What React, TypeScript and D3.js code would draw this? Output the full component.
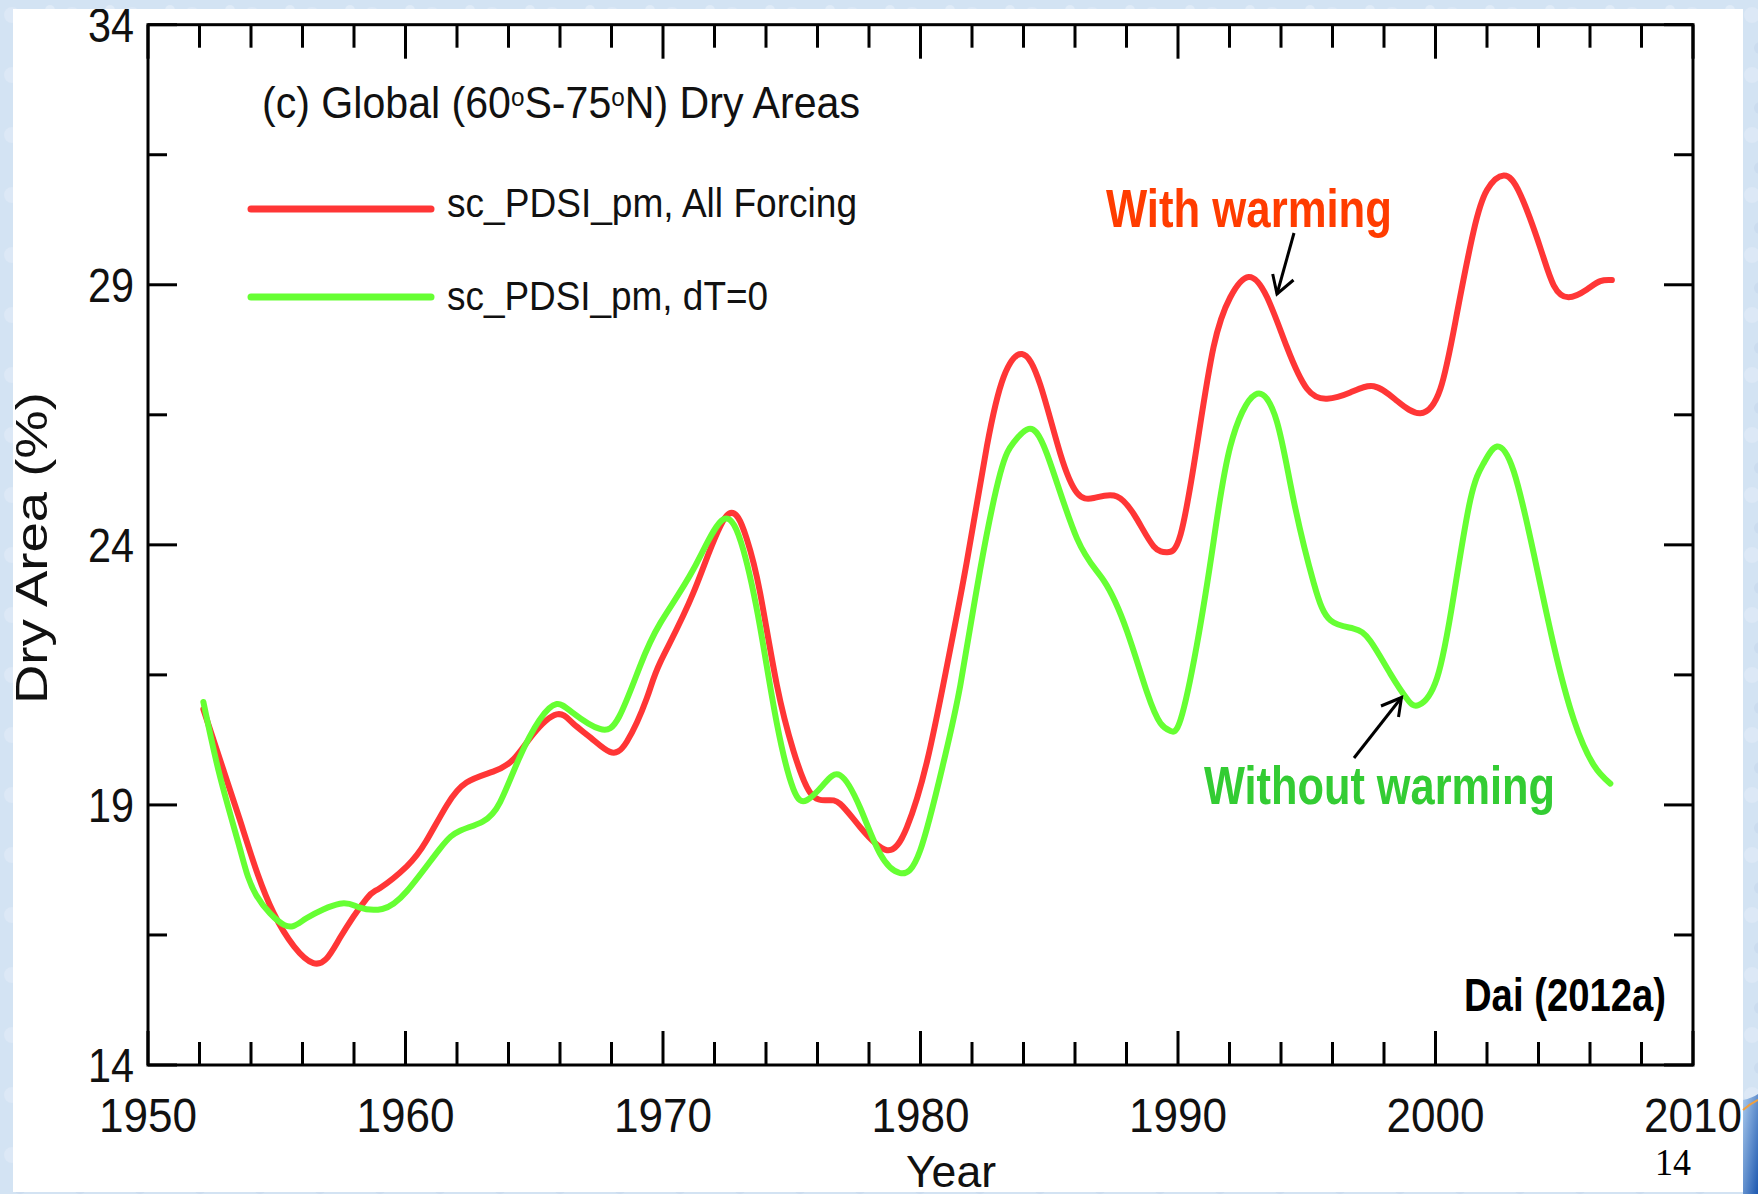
import React from 'react';
import * as d3 from 'd3';

// ---- Data ----
const redYears = [1952.15, 1953.57, 1954.87, 1956.42, 1957.45, 1958.49, 1959.0, 1960.05, 1960.8, 1961.6, 1962.37, 1963.4, 1964.2, 1964.96, 1965.87, 1966.5, 1967.2, 1967.94, 1968.6, 1969.37, 1969.9, 1971.18, 1972.47, 1973.25, 1973.77, 1974.42, 1975.06, 1975.71, 1976.36, 1976.88, 1977.66, 1978.7, 1979.47, 1980.25, 1981.03, 1981.8, 1982.58, 1983.23, 1983.94, 1984.65, 1985.43, 1986.08, 1986.73, 1987.63, 1988.41, 1989.06, 1989.58, 1990.1, 1990.73, 1991.38, 1992.03, 1992.74, 1993.46, 1994.23, 1995.01, 1995.79, 1996.69, 1997.6, 1998.5, 1999.41, 2000.19, 2000.83, 2001.48, 2002.0, 2002.65, 2003.29, 2004.07, 2004.59, 2005.17, 2005.88, 2006.4, 2006.85];
const redValues = [20.84, 18.71, 16.93, 15.96, 16.44, 17.2, 17.4, 17.82, 18.3, 18.99, 19.43, 19.64, 19.88, 20.36, 20.74, 20.57, 20.29, 20.02, 20.22, 21.05, 21.75, 23.08, 24.56, 24.12, 23.08, 21.31, 20.05, 19.24, 19.09, 19.02, 18.57, 18.13, 18.57, 19.83, 21.68, 23.68, 25.9, 27.23, 27.67, 27.08, 25.75, 25.0, 24.9, 24.93, 24.49, 23.97, 23.86, 24.2, 25.89, 27.8, 28.76, 29.15, 28.76, 27.8, 27.0, 26.81, 26.93, 27.05, 26.77, 26.53, 27.0, 28.44, 30.03, 30.82, 31.1, 30.74, 29.71, 28.99, 28.76, 28.91, 29.07, 29.09];

const greenYears = [1952.15, 1952.8, 1953.57, 1954.2, 1955.3, 1956.15, 1957.45, 1958.2, 1959.1, 1960.05, 1961.34, 1962.1, 1963.0, 1963.67, 1964.4, 1965.2, 1965.87, 1966.5, 1967.55, 1968.3, 1969.1, 1969.9, 1971.18, 1972.34, 1973.12, 1973.77, 1974.42, 1975.06, 1975.58, 1976.23, 1976.88, 1977.66, 1978.43, 1979.21, 1979.99, 1980.9, 1981.55, 1982.32, 1983.1, 1983.62, 1984.2, 1984.91, 1986.08, 1987.12, 1988.02, 1988.8, 1989.32, 1989.71, 1990.1, 1990.73, 1991.38, 1992.03, 1993.0, 1993.84, 1994.49, 1995.27, 1995.92, 1996.82, 1997.47, 1998.25, 1998.89, 1999.35, 2000.06, 2000.71, 2001.35, 2001.87, 2002.39, 2003.04, 2003.82, 2004.59, 2005.37, 2006.14, 2006.79];
const greenValues = [20.98, 19.54, 18.16, 17.27, 16.69, 16.82, 17.1, 17.03, 17.0, 17.34, 18.16, 18.5, 18.68, 19.05, 19.88, 20.63, 20.94, 20.77, 20.46, 20.7, 21.66, 22.5, 23.53, 24.49, 23.9, 22.42, 20.57, 19.31, 19.09, 19.39, 19.57, 18.94, 18.06, 17.69, 18.13, 19.83, 21.31, 23.53, 25.38, 25.97, 26.23, 25.75, 24.12, 23.31, 22.34, 21.16, 20.57, 20.42, 20.64, 22.07, 24.06, 25.89, 26.89, 26.37, 24.86, 23.27, 22.55, 22.39, 22.15, 21.52, 21.04, 20.92, 21.44, 23.03, 24.86, 25.57, 25.89, 25.41, 23.82, 22.07, 20.64, 19.77, 19.41];

const xTickLabels = [1950, 1960, 1970, 1980, 1990, 2000, 2010];
const xMinorTicks = [1952, 1954, 1956, 1958, 1962, 1964, 1966, 1968, 1972, 1974, 1976, 1978, 1982, 1984, 1986, 1988, 1992, 1994, 1996, 1998, 2002, 2004, 2006, 2008];
const yTickLabels = [14, 19, 24, 29, 34];
const yMinorTicks = [16.5, 21.5, 26.5, 31.5];

const seriesNames = ['sc_PDSI_pm, All Forcing', 'sc_PDSI_pm, dT=0'];
const titleParts = ['(c) Global (60', 'o', 'S-75', 'o', 'N) Dry Areas'];

const RED = '#ff3636';
const GREEN = '#66ff33';
const FONT = '"Liberation Sans", Arial, Helvetica, sans-serif';

export default function App() {
  const W = 1758;
  const H = 1194;
  const left = 148, right = 1693, top = 24.7, bottom = 1065;

  const x = d3.scaleLinear().domain([1950, 2010]).range([left, right]);
  const y = d3.scaleLinear().domain([14, 34]).range([bottom, top]);

  const line = d3
    .line<[number, number]>()
    .x((d) => x(d[0]))
    .y((d) => y(d[1]))
    .curve(d3.curveNatural);

  const redPts: [number, number][] = redYears.map((yr, i) => [yr, redValues[i]]);
  const greenPts: [number, number][] = greenYears.map((yr, i) => [yr, greenValues[i]]);

  const xMajLen = 34, xMinLen = 23, yMajLen = 29, yMinLen = 19;

  return (
    <svg
      width={W}
      height={H}
      viewBox={`0 0 ${W} ${H}`}
      style={{ position: 'absolute', left: 0, top: 0, display: 'block' }}
      fontFamily={FONT}
    >
      <defs>
        <clipPath id="panel">
          <rect x={13} y={9} width={1730} height={1183} />
        </clipPath>
        <linearGradient id="logo" x1="0" y1="0" x2="1" y2="1">
          <stop offset="0" stopColor="#a9c9ec" />
          <stop offset="1" stopColor="#1d58b0" />
        </linearGradient>
        <pattern id="ice" width="60" height="60" patternUnits="userSpaceOnUse">
          <rect width="60" height="60" fill="#d3e3f3" />
          <circle cx="12" cy="15" r="8" fill="#dce8f6" />
          <circle cx="42" cy="40" r="10" fill="#d9e6f5" />
          <circle cx="50" cy="10" r="5" fill="#e0ebf7" />
          <circle cx="20" cy="48" r="6" fill="#cbdcef" />
        </pattern>
      </defs>

      {/* background */}
      <rect x={0} y={0} width={W} height={H} fill="url(#ice)" />
      <rect x={13} y={9} width={1730} height={1183} fill="#ffffff" />
      {/* logo swoosh bottom-right */}
      <path d="M1743,1100 Q1752,1098 1758,1094 L1758,1194 L1743,1194 Z" fill="url(#logo)" />
      <path d="M1743,1110 Q1750,1104 1758,1100" stroke="#f0a040" strokeWidth={2} fill="none" />

      <g clipPath="url(#panel)">
        {/* frame */}
        <rect x={left} y={top} width={right - left} height={bottom - top} fill="none" stroke="#000" strokeWidth={3} />

        {/* x ticks bottom and top */}
        {xTickLabels.concat(xMinorTicks).map((t) => {
          const major = xTickLabels.includes(t);
          const len = major ? xMajLen : xMinLen;
          return (
            <g key={'xt' + t}>
              <line x1={x(t)} x2={x(t)} y1={bottom} y2={bottom - len} stroke="#000" strokeWidth={3} />
              <line x1={x(t)} x2={x(t)} y1={top} y2={top + len} stroke="#000" strokeWidth={3} />
            </g>
          );
        })}
        {/* y ticks left and right */}
        {yTickLabels.concat(yMinorTicks).map((t) => {
          const major = yTickLabels.includes(t);
          const len = major ? yMajLen : yMinLen;
          return (
            <g key={'yt' + t}>
              <line x1={left} x2={left + len} y1={y(t)} y2={y(t)} stroke="#000" strokeWidth={3} />
              <line x1={right} x2={right - len} y1={y(t)} y2={y(t)} stroke="#000" strokeWidth={3} />
            </g>
          );
        })}

        {/* x tick labels */}
        {xTickLabels.map((t) => (
          <text
            key={'xl' + t}
            x={x(t)}
            y={bottom + 67}
            fontSize={48}
            textAnchor="middle"
            fill="#111"
            textLength={98}
            lengthAdjust="spacingAndGlyphs"
          >
            {t}
          </text>
        ))}
        {/* y tick labels */}
        {yTickLabels.map((t) => (
          <text
            key={'yl' + t}
            x={134}
            y={y(t) + 17}
            fontSize={48}
            textAnchor="end"
            fill="#111"
            textLength={46}
            lengthAdjust="spacingAndGlyphs"
          >
            {t}
          </text>
        ))}

        {/* axis titles */}
        <text x={951} y={1187} fontSize={44} textAnchor="middle" fill="#111" textLength={90} lengthAdjust="spacingAndGlyphs">
          Year
        </text>
        <text
          transform="translate(47,548) rotate(-90)"
          fontSize={44}
          textAnchor="middle"
          fill="#111"
          textLength={312}
          lengthAdjust="spacingAndGlyphs"
        >
          Dry Area (%)
        </text>

        {/* panel title */}
        <text x={262} y={118} fontSize={44} fill="#111" textLength={598} lengthAdjust="spacingAndGlyphs">
          <tspan>{titleParts[0]}</tspan>
          <tspan dy={-12} fontSize={26}>{titleParts[1]}</tspan>
          <tspan dy={12}>{titleParts[2]}</tspan>
          <tspan dy={-12} fontSize={26}>{titleParts[3]}</tspan>
          <tspan dy={12}>{titleParts[4]}</tspan>
        </text>

        {/* legend */}
        <line x1={251} x2={431} y1={209} y2={209} stroke={RED} strokeWidth={7} strokeLinecap="round" />
        <line x1={251} x2={431} y1={297} y2={297} stroke={GREEN} strokeWidth={7} strokeLinecap="round" />
        <text x={447} y={217} fontSize={40} fill="#111" textLength={410} lengthAdjust="spacingAndGlyphs">
          {seriesNames[0]}
        </text>
        <text x={447} y={310} fontSize={40} fill="#111" textLength={321} lengthAdjust="spacingAndGlyphs">
          {seriesNames[1]}
        </text>

        {/* series */}
        <path d={line(redPts) || ''} fill="none" stroke={RED} strokeWidth={6} strokeLinejoin="round" strokeLinecap="round" />
        <path d={line(greenPts) || ''} fill="none" stroke={GREEN} strokeWidth={6} strokeLinejoin="round" strokeLinecap="round" />

        {/* annotations */}
        <text x={1106} y={227} fontSize={53} fontWeight="bold" fill="#ff3c00" textLength={286} lengthAdjust="spacingAndGlyphs">
          With warming
        </text>
        <line x1={1294} y1={233} x2={1277} y2={294} stroke="#000" strokeWidth={3} />
        <polyline points="1272.7,274 1277,294 1293.5,280" fill="none" stroke="#000" strokeWidth={3} />

        <text x={1204} y={804} fontSize={54} fontWeight="bold" fill="#33cc33" textLength={351} lengthAdjust="spacingAndGlyphs">
          Without warming
        </text>
        <line x1={1354} y1={758} x2={1401.5} y2={697.5} stroke="#000" strokeWidth={3} />
        <polyline points="1381,706 1401.5,697.5 1398.5,717" fill="none" stroke="#000" strokeWidth={3} />

        <text x={1464} y={1011} fontSize={47} fontWeight="bold" fill="#000" textLength={202} lengthAdjust="spacingAndGlyphs">
          Dai (2012a)
        </text>

        {/* page number */}
        <text x={1655} y={1175} fontSize={38} fill="#000" fontFamily='"Liberation Serif", "Times New Roman", serif' textLength={36} lengthAdjust="spacingAndGlyphs">
          14
        </text>
      </g>
    </svg>
  );
}
